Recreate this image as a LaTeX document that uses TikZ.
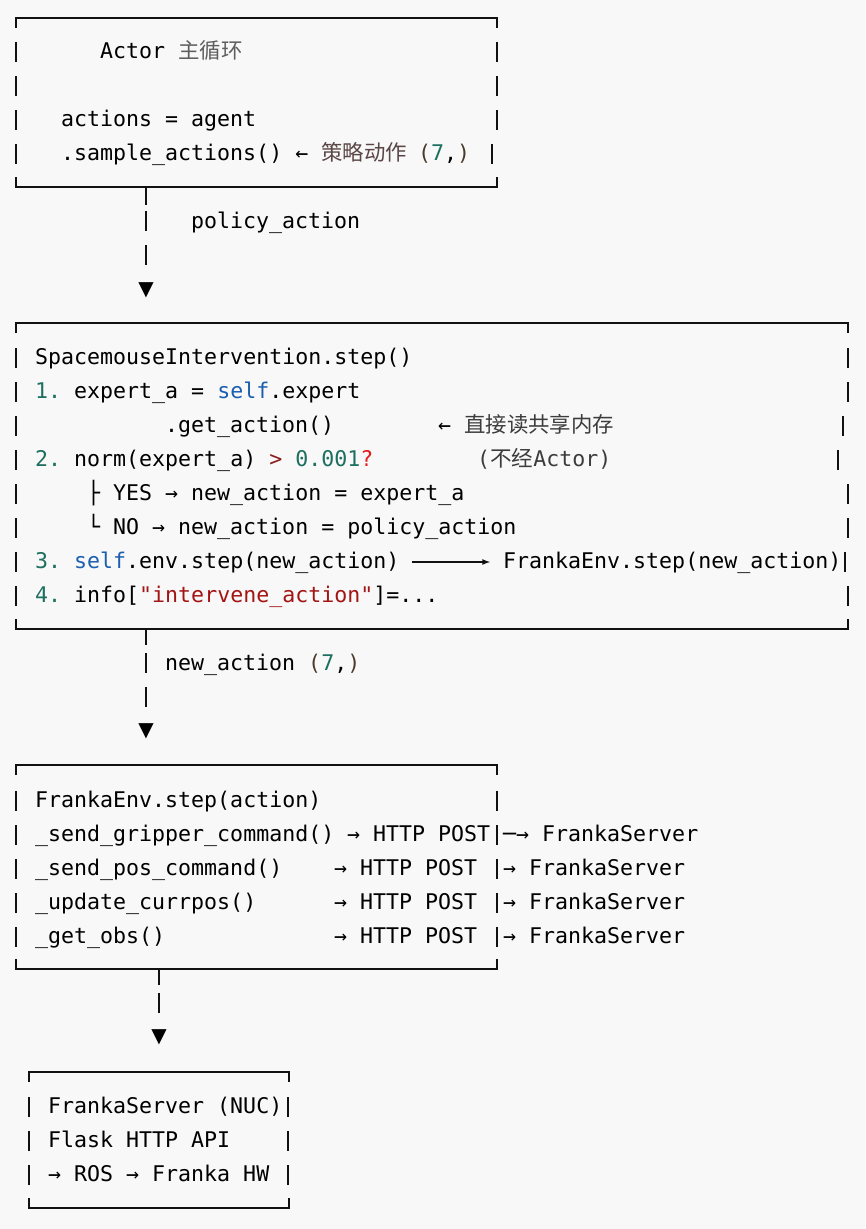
\documentclass[tikz,border=0pt]{standalone}
\usepackage{fontspec}
\setmonofont{DejaVu Sans Mono}
\newfontfamily\cjk{Noto Sans CJK SC}
\newfontfamily\symb{DejaVu Sans}
\definecolor{bg}{HTML}{F8F8F8}
\definecolor{rimcol}{HTML}{111111}
\definecolor{numteal}{HTML}{1D6F5F}
\definecolor{kwblue}{HTML}{1B5FB0}
\definecolor{opred}{HTML}{8B1A1A}
\definecolor{qred}{HTML}{E51C1C}
\definecolor{strred}{HTML}{A31515}
\definecolor{zhgray}{HTML}{5E5E5E}
\definecolor{zhbrown}{HTML}{5B4646}
\definecolor{zhdark}{HTML}{3C3C3C}
\definecolor{paren}{HTML}{4A3B2B}
\newcommand\rowbar[2]{\draw[bar] (#1,#2-9) -- (#1,#2+11);}
\newcommand\asciibox[4]{%
  \draw[rim] (#1,#2+10) -- (#1,#2) -- (#3,#2) -- (#3,#2+10);
  \draw[rim] (#1,#4-10) -- (#1,#4) -- (#3,#4) -- (#3,#4-10);}
\begin{document}
\begin{tikzpicture}[x=1pt,y=-1pt,
    txt/.style={anchor=base west, inner sep=0pt, font=\ttfamily\fontsize{21.6}{26}\selectfont},
    zh/.style={anchor=base west, inner sep=0pt, font=\cjk\fontsize{21.4}{26}\selectfont},
    rim/.style={line width=2.4pt, draw=rimcol},
    bar/.style={line width=1.6pt, draw=rimcol},
    downtip/.style={inner sep=0pt, font=\symb\fontsize{20}{20}\selectfont}]
    \fill[bg] (0,0) rectangle (865,1229);
    \useasboundingbox (0,0) rectangle (865,1229);
    % actor loop
    \asciibox{16}{18}{497}{187}
    \foreach \r in {51,85,119,153} {\rowbar{16}{\r}}
    \foreach \r in {51,85,119} {\rowbar{497}{\r}}
    \rowbar{492}{153}
    \node[txt] (actT) at (100,58) {Actor};
    \node[zh] (actZ) at (178,58) {\textcolor{zhgray}{主循环}};
    \node[txt] (act1) at (61,126) {actions = agent};
    \node[txt] (act2) at (61,160) {.sample\_actions() ←};
    \node[zh] (act3) at (321,160) {\textcolor{zhbrown}{策略动作}};
    \node[txt] (act4) at (418,160) {\textcolor{paren}{(}\textcolor{numteal}{7},\textcolor{paren}{)}};
    \coordinate (actS) at (146,187);
    \node[downtip] (tri1) at (146,290) {▼};
    \draw[bar, dash pattern=on 18pt off 6pt on 20pt off 14pt on 20pt off 40pt] (actS) -- (tri1.north);
    \node[txt] (pol) at (191,228) {policy\_action};
    % spacemouse wrapper
    \asciibox{16}{323}{848}{629}
    \foreach \r in {357,391,425,459,493,527,561,595} {\rowbar{16}{\r}}
    \foreach \r in {357,391,493,527,595} {\rowbar{848}{\r}}
    \rowbar{843}{425}
    \rowbar{838}{459}
    \rowbar{845}{561}
    \node[txt] (sp0) at (35,364) {SpacemouseIntervention.step()};
    \node[txt] (sp1) at (35,398) {\textcolor{numteal}{1.} expert\_a = \textcolor{kwblue}{self}.expert};
    \node[txt] (sp2) at (165,432) {.get\_action()};
    \node[txt] (sp2a) at (438,432) {←};
    \node[zh] (sp2b) at (464,432) {\textcolor{zhdark}{直接读共享内存}};
    \node[txt] (sp3) at (35,466) {\textcolor{numteal}{2.} norm(expert\_a) \textcolor{opred}{>} \textcolor{numteal}{0.001}\textcolor{qred}{?}};
    \node[txt] (sp3a) at (477,466) {\textcolor{zhdark}{({\cjk 不经}Actor)}};
    \node[txt] (sp4) at (87,500) {├ YES → new\_action = expert\_a};
    \node[txt] (sp5) at (87,534) {└ NO → new\_action = policy\_action};
    \node[txt] (sp6) at (35,568) {\textcolor{numteal}{3.} \textcolor{kwblue}{self}.env.step(new\_action)};
    \node[txt] (fenv) at (503,568) {FrankaEnv.step(new\_action)};
    \draw[-latex, line width=1.6pt, rimcol] ([xshift=12pt,yshift=6pt]sp6.base east) -- ([xshift=-13pt,yshift=6pt]fenv.base west);
    \node[txt] (sp7) at (35,602) {\textcolor{numteal}{4.} info[\textcolor{strred}{"intervene\_action"}]=...};
    \coordinate (spS) at (146,629);
    \node[downtip] (tri2) at (146,731) {▼};
    \draw[bar, dash pattern=on 16pt off 8pt on 20pt off 14pt on 20pt off 40pt] (spS) -- (tri2.north);
    \node[txt] (nact) at (165,670) {new\_action \textcolor{paren}{(}\textcolor{numteal}{7},\textcolor{paren}{)}};
    % franka env
    \asciibox{16}{765}{497}{969}
    \foreach \r in {800,834,868,902,936} {\rowbar{16}{\r} \rowbar{497}{\r}}
    \node[txt] (fe0) at (35,807) {FrankaEnv.step(action)};
    \node[txt] (fe1) at (35,841) {\_send\_gripper\_command()};
    \node[txt] (fe1a) at (347,841) {→ HTTP POST};
    \node[txt] (fe1b) at (503,841) {─→ FrankaServer};
    \node[txt] (fe2) at (35,875) {\_send\_pos\_command()};
    \node[txt] (fe2a) at (334,875) {→ HTTP POST};
    \node[txt] (fe2b) at (503,875) {→ FrankaServer};
    \node[txt] (fe3) at (35,909) {\_update\_currpos()};
    \node[txt] (fe3a) at (334,909) {→ HTTP POST};
    \node[txt] (fe3b) at (503,909) {→ FrankaServer};
    \node[txt] (fe4) at (35,943) {\_get\_obs()};
    \node[txt] (fe4a) at (334,943) {→ HTTP POST};
    \node[txt] (fe4b) at (503,943) {→ FrankaServer};
    \coordinate (feS) at (159,969);
    \node[downtip] (tri3) at (159,1037) {▼};
    \draw[bar, dash pattern=on 16pt off 8pt on 20pt off 40pt] (feS) -- (tri3.north);
    % franka server
    \asciibox{29}{1072}{289}{1208}
    \foreach \r in {1106,1140,1174} {\rowbar{29}{\r} \rowbar{288}{\r}}
    \node[txt] (fs0) at (48,1113) {FrankaServer (NUC)};
    \node[txt] (fs1) at (48,1147) {Flask HTTP API};
    \node[txt] (fs2) at (48,1181) {→ ROS → Franka HW};
\end{tikzpicture}
\end{document}
